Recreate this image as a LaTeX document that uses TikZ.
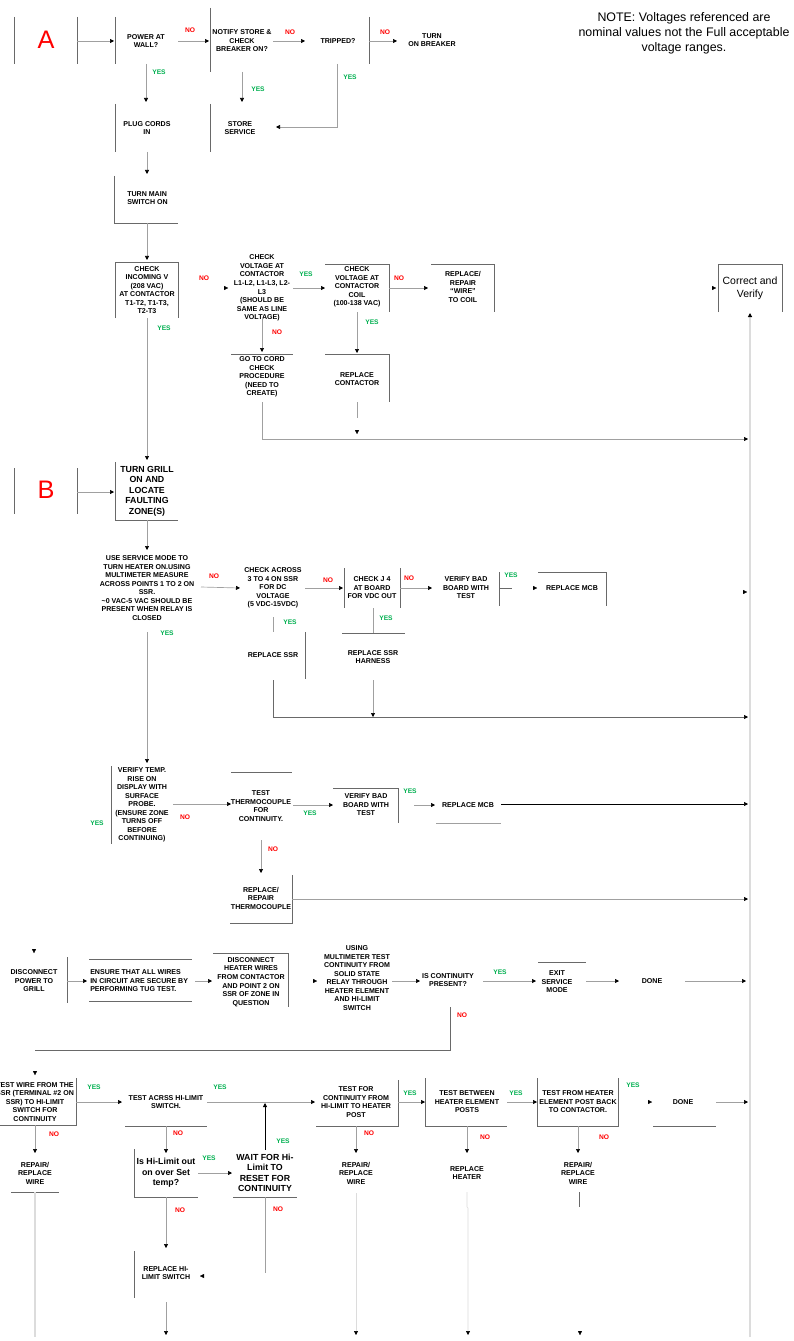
\documentclass[tikz,border=0pt]{standalone}
\usepackage{fontspec}
\setmainfont{Liberation Sans}
\usetikzlibrary{arrows.meta}
\definecolor{yesg}{RGB}{0,176,80}
\definecolor{nored}{RGB}{255,0,0}
\definecolor{boxg}{RGB}{105,105,105}
\definecolor{lng}{RGB}{160,160,160}
\definecolor{vline}{RGB}{220,220,220}
\begin{document}
\begin{tikzpicture}[x=0.75pt,y=-0.75pt,line cap=butt,
  t/.style={font=\fontsize{5.3}{6.4}\selectfont\bfseries,align=center,inner sep=0pt},
  tl/.style={font=\fontsize{5.3}{6.4}\selectfont\bfseries,align=left,inner sep=0pt,anchor=west},
  tb/.style={font=\fontsize{6.6}{7.9}\selectfont\bfseries,align=center,inner sep=0pt},
  yes/.style={font=\fontsize{5}{6}\selectfont\bfseries,text=yesg,inner sep=0pt},
  no/.style={font=\fontsize{5}{6}\selectfont\bfseries,text=nored,inner sep=0pt},
  big/.style={font=\fontsize{19}{22}\selectfont,text=nored,inner sep=0pt},
  bx/.style={draw=boxg,line width=0.6pt},
  ln/.style={draw=lng,line width=0.5pt},
  ar/.style={draw=lng,line width=0.5pt,-{Triangle[length=3pt,width=3pt,color=black]}},
  stub/.style={draw=white,line width=0.1pt,-{Triangle[length=3pt,width=3pt,color=black]}}]
\fill[white] (0,0) rectangle (793,1341);
\useasboundingbox (0,0) rectangle (793,1341);
\clip (0,0) rectangle (793,1341);

% ---------------- section A ----------------
\node[big] (lA) at (46,40) {A};
\node[t] (n1) at (146,41) {POWER AT\\WALL?};
\node[t] (n2) at (242,41) {NOTIFY STORE \&\\CHECK\\BREAKER ON?};
\node[t] (n3) at (338,41) {TRIPPED?};
\node[t] (n4) at (432,40) {TURN\\ON BREAKER};
\node[font=\fontsize{9.3}{11.25}\selectfont,align=center,inner sep=0pt] (note) at (684,33)
  {NOTE: Voltages referenced are\\nominal values not the Full acceptable\\voltage ranges.};
\node[t] (n5) at (147,128) {PLUG CORDS\\IN};
\node[t] (n6) at (240,128) {STORE\\SERVICE};
\node[tl] (n7) at (127,198) {TURN MAIN\\SWITCH ON};

\draw[bx] (14,17) -- (14,64);
\draw[bx] (77,17) -- (77,64);
\draw[bx] (115,17) -- (115,64);
\draw[bx] (210,8) -- (210,72);
\draw[bx] (369,17) -- (369,64);
\draw[bx] (115,104) -- (115,152);
\draw[bx] (210,104) -- (210,152);
\draw[bx] (114,176) -- (114,223) -- (178,223);

\node[no] at (190,30) {NO};
\node[no] at (290,32) {NO};
\node[no] at (385,32) {NO};
\node[yes] at (159,72) {YES};
\node[yes] at (258,89) {YES};
\node[yes] at (350,77) {YES};

\draw[ar] (77,41) -- (114,41);
\draw[ar] (178,41) -- (209,41);
\draw[ar] (273,41) -- (305,41);
\draw[ar] (369,41) -- (397,41);
\draw[ar] (146,64) -- (146,102);
\draw[ar] (242,72) -- (242,102);
\draw[ar] (337,64) -- (337,127) -- (276,127);
\draw[ar] (147,152) -- (147,174);
\draw[ar] (147,223) -- (147,260);

% incoming check row
\node[t] (n8) at (147,290) {CHECK\\INCOMING V\\(208 VAC)\\AT CONTACTOR\\T1-T2, T1-T3,\\T2-T3};
\node[t] (n9) at (262,288) {CHECK\\VOLTAGE AT\\CONTACTOR\\L1-L2, L1-L3, L2-\\L3\\(SHOULD BE\\SAME AS LINE\\VOLTAGE)};
\node[t] (n10) at (357,287) {CHECK\\VOLTAGE AT\\CONTACTOR\\COIL\\(100-138 VAC)};
\node[t] (n11) at (463,287) {REPLACE/\\REPAIR\\“WIRE”\\TO COIL};
\node[font=\fontsize{7.85}{10}\selectfont,align=center,inner sep=0pt] (n12) at (750,288) {Correct and\\Verify};
\node[t] (n13) at (262,377) {GO TO CORD\\CHECK\\PROCEDURE\\(NEED TO\\CREATE)};
\node[t] (n14) at (357,379) {REPLACE\\CONTACTOR};

\draw[bx] (115,318) -- (115,262) -- (178,262) -- (178,318);
\draw[bx] (325,264) -- (389,264) -- (389,312);
\draw[bx] (431,264) -- (494,264) -- (494,312);
\draw[bx] (718,312) -- (718,264) -- (782,264) -- (782,312);
\draw[bx] (231,354) -- (293,354);
\draw[bx] (325,354) -- (389,354) -- (389,402);

\node[no] at (204,278) {NO};
\node[yes] at (164,328) {YES};
\node[yes] at (306,274) {YES};
\node[no] at (399,278) {NO};
\node[no] at (277,332) {NO};
\node[yes] at (372,322) {YES};

\draw[stub] (226,288) -- (228,288);
\draw[ar] (293,288) -- (325,288);
\draw[ar] (389,288) -- (428,288);
\draw[stub] (714,288) -- (716,288);
\draw[ar] (262,318) -- (262,352);
\draw[ar] (357,312) -- (357,353);
\draw[ln] (357,402) -- (357,418);
\draw[stub] (357,431) -- (357,434);
\draw[ar] (262,402) -- (262,439) -- (748,439);
\draw[draw=vline,line width=1.4pt,-{Triangle[length=3pt,width=3pt,color=black]}] (750,1337) -- (750,313);
\draw[ar] (147,318) -- (147,460);

% ---------------- section B ----------------
\node[big] (lB) at (46,490) {B};
\node[tb] (n15) at (147,491) {TURN GRILL\\ON AND\\LOCATE\\FAULTING\\ZONE(S)};
\draw[bx] (14,468) -- (14,514);
\draw[bx] (77,468) -- (77,514);
\draw[bx] (115,462) -- (115,520) -- (178,520);
\draw[ar] (77,492) -- (114,492);
\draw[ar] (147,520) -- (147,550);

\node[t] (n16) at (147,588) {USE SERVICE MODE TO\\TURN HEATER ON.USING\\MULTIMETER MEASURE\\ACROSS POINTS 1 TO 2 ON\\SSR.\\\textasciitilde0 VAC-5 VAC SHOULD BE\\PRESENT WHEN RELAY IS\\CLOSED};
\node[t] (n17) at (273,588) {CHECK ACROSS\\3 TO 4 ON SSR\\FOR DC\\VOLTAGE\\(5 VDC-15VDC)};
\node[t] (n18) at (372,588) {CHECK J 4\\AT BOARD\\FOR VDC OUT};
\node[t] (n19) at (466,588) {VERIFY BAD\\BOARD WITH\\TEST};
\node[t] (n20) at (572,588) {REPLACE MCB};
\node[t] (n21) at (273,655) {REPLACE SSR};
\node[t] (n22) at (373,657) {REPLACE SSR\\HARNESS};

\node[no] at (214,576) {NO};
\node[yes] at (167,633) {YES};
\node[no] at (328,580) {NO};
\node[no] at (409,578) {NO};
\node[yes] at (290,622) {YES};
\node[yes] at (386,618) {YES};
\node[yes] at (511,575) {YES};

\draw[ar] (201,587) -- (240,588);
\draw[ar] (305,588) -- (343,588);
\draw[bx] (344,568) -- (344,608);
\draw[bx] (400,568) -- (400,608);
\draw[ar] (400,588) -- (432,588);
\draw[bx] (499,572) -- (499,606);
\draw[bx] (499,588) -- (512,588);
\draw[stub] (535,588) -- (537,588);
\draw[bx] (538,572) -- (606,572) -- (606,606);
\draw[stub] (745,592) -- (747,592);
\draw[ln] (273,617) -- (273,632);
\draw[bx] (305,632) -- (305,679);
\draw[ln] (373,608) -- (373,633);
\draw[bx] (342,633) -- (405,633);
\draw[ar,draw=boxg] (273,680) -- (273,717) -- (748,717);
\draw[ar] (373,680) -- (373,717);
\draw[ar] (147,632) -- (147,763);

% verify temp row
\node[t] (n23) at (142,805) {VERIFY TEMP.\\RISE ON\\DISPLAY WITH\\SURFACE\\PROBE.\\(ENSURE ZONE\\TURNS OFF\\BEFORE\\CONTINUING)};
\node[t] (n24) at (261,806) {TEST\\THERMOCOUPLE\\FOR\\CONTINUITY.};
\node[t] (n25) at (366,805) {VERIFY BAD\\BOARD WITH\\TEST};
\node[t] (n26) at (468,805) {REPLACE MCB};
\node[t] (n27) at (261,898) {REPLACE/\\REPAIR\\THERMOCOUPLE};

\node[yes] at (97,823) {YES};
\node[no] at (185,817) {NO};
\node[yes] at (310,813) {YES};
\node[yes] at (410,791) {YES};
\node[no] at (273,849) {NO};

\draw[bx] (111,766) -- (111,844);
\draw[ar] (173,804) -- (231,804);
\draw[bx] (231,772) -- (292,772);
\draw[ar] (293,805) -- (333,805);
\draw[bx] (333,788) -- (398,788) -- (398,823);
\draw[ar] (414,805) -- (435,805);
\draw[bx,draw=lng] (436,823) -- (501,823);
\draw[ar,draw=black] (501,804) -- (748,804);
\draw[ar] (261,840) -- (261,873);
\draw[bx] (292,875) -- (292,923) -- (230,923);
\draw[ar] (292,899) -- (748,899);

% ---------------- continuity row ----------------
\node[t] (n28) at (34,981) {DISCONNECT\\POWER TO\\GRILL};
\node[tl] (n29) at (90,981) {ENSURE THAT ALL WIRES\\IN CIRCUIT ARE SECURE BY\\PERFORMING TUG TEST.};
\node[t] (n30) at (251,982) {DISCONNECT\\HEATER WIRES\\FROM CONTACTOR\\AND POINT 2 ON\\SSR OF ZONE IN\\QUESTION};
\node[t] (n31) at (357,978) {USING\\MULTIMETER TEST\\CONTINUITY FROM\\SOLID STATE\\RELAY  THROUGH\\HEATER ELEMENT\\AND HI-LIMIT\\SWITCH};
\node[t] (n32) at (448,980) {IS CONTINUITY\\PRESENT?};
\node[t] (n33) at (557,982) {EXIT\\SERVICE\\MODE};
\node[t] (n34) at (652,981) {DONE};

\node[yes] at (500,972) {YES};
\node[no] at (462,1015) {NO};

\draw[stub] (34,951) -- (34,953);
\draw[bx] (67,957) -- (67,1003);
\draw[ar] (67,981) -- (87,981);
\draw[bx] (89,959) -- (192,959);
\draw[bx] (89,1001) -- (192,1001);
\draw[ar] (195,981) -- (212,981);
\draw[bx] (213,953) -- (288,953) -- (288,1007);
\draw[stub] (315,981) -- (317,981);
\draw[ar] (392,981) -- (420,981);
\draw[ar] (483,981) -- (536,981);
\draw[bx] (538,962) -- (586,962);
\draw[ar] (586,981) -- (619,981);
\draw[ar] (685,981) -- (746,981);
\draw[bx] (450,1007) -- (450,1050) -- (35,1050);
\draw[stub] (35,1073) -- (35,1075);

% ---------------- hi-limit row ----------------
\node[t] (n35) at (35,1102) {TEST WIRE FROM THE\\SSR (TERMINAL \#2 ON\\SSR) TO HI-LIMIT\\SWITCH FOR\\CONTINUITY};
\node[t] (n36) at (166,1102) {TEST ACRSS HI-LIMIT\\SWITCH.};
\node[t] (n37) at (356,1102) {TEST FOR\\CONTINUITY  FROM\\HI-LIMIT TO HEATER\\POST};
\node[t] (n38) at (467,1102) {TEST BETWEEN\\HEATER ELEMENT\\POSTS};
\node[t] (n39) at (578,1102) {TEST FROM HEATER\\ELEMENT POST BACK\\TO CONTACTOR.};
\node[t] (n40) at (683,1102) {DONE};
\node[t] (n41) at (35,1173) {REPAIR/\\REPLACE\\WIRE};
\node[tb] (n42) at (166,1173) {Is Hi-Limit out\\on over  Set\\temp?};
\node[tb] (n43) at (265,1173) {WAIT FOR Hi-\\Limit TO\\RESET FOR\\CONTINUITY};
\node[t] (n44) at (356,1173) {REPAIR/\\REPLACE\\WIRE};
\node[t] (n45) at (467,1173) {REPLACE\\HEATER};
\node[t] (n46) at (578,1173) {REPAIR/\\REPLACE\\WIRE};
\node[t] (n47) at (166,1273) {REPLACE HI-\\LIMIT SWITCH};

\node[yes] at (94,1087) {YES};
\node[yes] at (220,1087) {YES};
\node[yes] at (410,1093) {YES};
\node[yes] at (516,1093) {YES};
\node[yes] at (633,1085) {YES};
\node[no] at (54,1134) {NO};
\node[no] at (178,1133) {NO};
\node[no] at (369,1133) {NO};
\node[no] at (485,1137) {NO};
\node[no] at (604,1137) {NO};
\node[yes] at (209,1158) {YES};
\node[yes] at (283,1141) {YES};
\node[no] at (180,1210) {NO};
\node[no] at (278,1209) {NO};

\draw[bx] (76,1078) -- (76,1125) -- (0,1125);
\draw[ar] (76,1102) -- (122,1102);
\draw[bx] (125,1126) -- (207,1126);
\draw[ar] (207,1102) -- (315,1102);
\draw[bx] (316,1126) -- (398,1126) -- (398,1080);
\draw[ar] (398,1102) -- (425,1102);
\draw[bx] (425,1078) -- (425,1126) -- (507,1126);
\draw[ar] (507,1102) -- (537,1102);
\draw[bx] (537,1078) -- (537,1126) -- (618,1126) -- (618,1078);
\draw[stub] (650,1102) -- (652,1102);
\draw[bx] (653,1126) -- (716,1126);
\draw[ar] (716,1102) -- (748,1102);

\draw[ar] (35,1125) -- (35,1153);
\draw[bx] (11,1192) -- (59,1192);
\draw[draw=vline,line width=0.8pt] (35,1192) -- (35,1337);
\draw[ar] (166,1126) -- (166,1153);
\draw[bx] (134,1149) -- (134,1197) -- (198,1197);
\draw[ar] (198,1173) -- (232,1173);
\draw[bx] (233,1197) -- (297,1197);
\draw[draw=black,line width=0.6pt,-{Triangle[length=3pt,width=3pt,color=black]}] (265,1150) -- (265,1103);
\draw[ln] (265,1197) -- (265,1273);
\draw[stub] (202,1276) -- (200,1276);
\draw[ar] (166,1197) -- (166,1248);
\draw[bx] (134,1251) -- (134,1298);
\draw[ar] (166,1302) -- (166,1335);
\draw[ar] (356,1126) -- (356,1153);
\draw[ar,draw=vline] (356,1193) -- (356,1335);
\draw[ar] (467,1126) -- (467,1153);
\draw[ar,draw=vline] (467,1192) -- (467,1207) -- (468,1208) -- (468,1335);
\draw[ar] (578,1126) -- (578,1153);
\draw[bx] (579,1192) -- (579,1207);
\draw[stub] (580,1333) -- (580,1335);
\end{tikzpicture}
\end{document}
